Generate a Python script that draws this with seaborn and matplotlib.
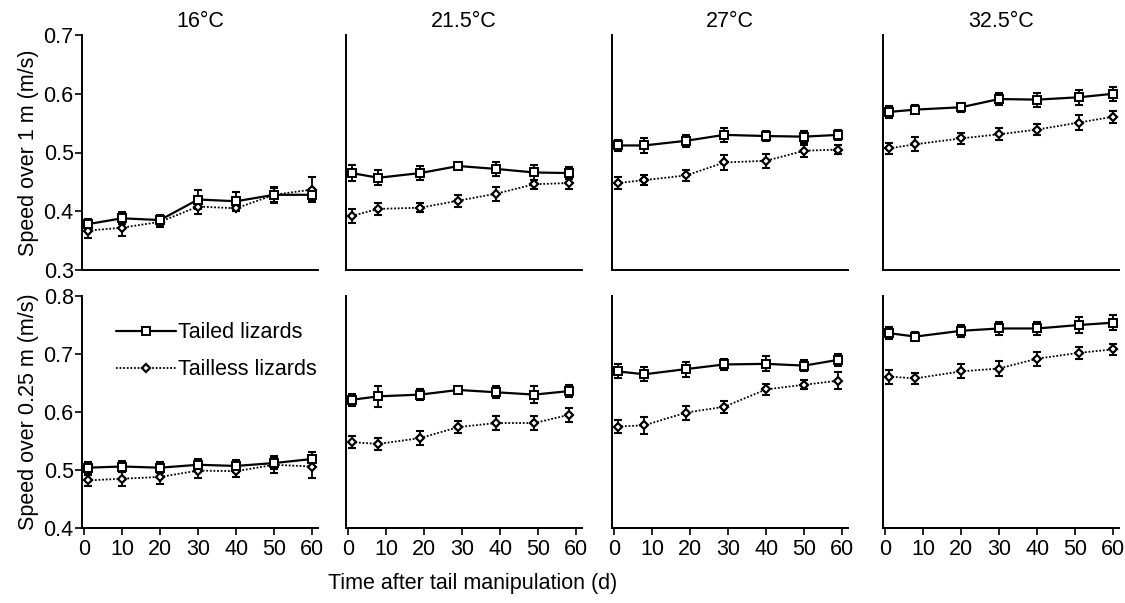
import numpy as np
import pandas as pd
import matplotlib
matplotlib.use("Agg")
import matplotlib.pyplot as plt
import seaborn as sns
from matplotlib.lines import Line2D

# panel titles and sampling days (per temperature column)
temps = ["16°C", "21.5°C", "27°C", "32.5°C"]
days = [[1, 10, 20, 30, 40, 50, 60],
        [1, 8, 19, 29, 39, 49, 58],
        [1, 8, 19, 29, 40, 50, 59],
        [1, 8, 20, 30, 40, 51, 60]]

# speed over 1 m (m/s)
tailed_1m = [[0.378, 0.388, 0.385, 0.420, 0.417, 0.428, 0.428],
             [0.465, 0.457, 0.465, 0.477, 0.472, 0.466, 0.465],
             [0.512, 0.512, 0.520, 0.530, 0.528, 0.527, 0.530],
             [0.569, 0.573, 0.577, 0.591, 0.590, 0.594, 0.600]]
tailed_1m_se = [[0.008, 0.010, 0.008, 0.016, 0.016, 0.012, 0.010],
                [0.013, 0.013, 0.012, 0.007, 0.012, 0.013, 0.010],
                [0.010, 0.013, 0.010, 0.012, 0.008, 0.010, 0.008],
                [0.010, 0.008, 0.008, 0.010, 0.012, 0.013, 0.012]]
tailless_1m = [[0.367, 0.372, 0.382, 0.408, 0.405, 0.428, 0.437],
               [0.392, 0.404, 0.406, 0.418, 0.430, 0.446, 0.448],
               [0.448, 0.453, 0.461, 0.483, 0.486, 0.503, 0.505],
               [0.507, 0.514, 0.524, 0.531, 0.539, 0.551, 0.561]]
tailless_1m_se = [[0.012, 0.014, 0.008, 0.012, 0.004, 0.014, 0.022],
                  [0.012, 0.010, 0.008, 0.010, 0.012, 0.008, 0.010],
                  [0.010, 0.008, 0.010, 0.013, 0.012, 0.010, 0.008],
                  [0.010, 0.012, 0.010, 0.010, 0.010, 0.012, 0.010]]

# speed over 0.25 m (m/s)
tailed_025 = [[0.504, 0.506, 0.504, 0.509, 0.507, 0.512, 0.519],
              [0.621, 0.627, 0.630, 0.638, 0.634, 0.630, 0.636],
              [0.670, 0.665, 0.674, 0.682, 0.683, 0.680, 0.690],
              [0.736, 0.730, 0.740, 0.744, 0.744, 0.750, 0.754]]
tailed_025_se = [[0.010, 0.010, 0.010, 0.010, 0.010, 0.010, 0.012],
                 [0.010, 0.018, 0.010, 0.007, 0.010, 0.015, 0.010],
                 [0.012, 0.012, 0.013, 0.010, 0.013, 0.010, 0.010],
                 [0.010, 0.008, 0.010, 0.012, 0.012, 0.013, 0.013]]
tailless_025 = [[0.482, 0.485, 0.488, 0.499, 0.498, 0.509, 0.506],
                [0.548, 0.545, 0.555, 0.574, 0.581, 0.581, 0.595],
                [0.575, 0.577, 0.599, 0.609, 0.639, 0.647, 0.654],
                [0.661, 0.658, 0.670, 0.675, 0.692, 0.702, 0.708]]
tailless_025_se = [[0.010, 0.012, 0.012, 0.012, 0.010, 0.015, 0.020],
                   [0.010, 0.010, 0.012, 0.010, 0.012, 0.012, 0.012],
                   [0.012, 0.015, 0.012, 0.010, 0.010, 0.008, 0.015],
                   [0.012, 0.010, 0.012, 0.013, 0.012, 0.010, 0.010]]

sns.set_style("ticks")
plt.rcParams['font.family'] = ['Liberation Sans', 'DejaVu Sans']
plt.rcParams['axes.linewidth'] = 1.4
for key in ['text.color', 'axes.labelcolor', 'axes.edgecolor', 'xtick.color', 'ytick.color']:
    plt.rcParams[key] = 'black'

FS = 15.5
W, H = 1125, 603
fig = plt.figure(figsize=(W / 100, H / 100), dpi=100)

lefts = [82, 346, 612, 883]
ax_w = 236
rows = [
    dict(bottom=603 - 270, height=235, ylim=(0.3, 0.7), ticks=[0.3, 0.4, 0.5, 0.6, 0.7],
         tailed=tailed_1m, tailed_se=tailed_1m_se, tailless=tailless_1m, tailless_se=tailless_1m_se,
         ylabel="Speed over 1 m (m/s)"),
    dict(bottom=603 - 528, height=232, ylim=(0.4, 0.8), ticks=[0.4, 0.5, 0.6, 0.7, 0.8],
         tailed=tailed_025, tailed_se=tailed_025_se, tailless=tailless_025, tailless_se=tailless_025_se,
         ylabel="Speed over 0.25 m (m/s)"),
]

sq_kw = dict(color="black", linestyle="-", linewidth=1.6, marker="s", markersize=6,
             markerfacecolor="white", markeredgecolor="black", markeredgewidth=1.4)
dm_kw = dict(color="black", linestyle=(0, (1, 1)), linewidth=1.3, marker="D", markersize=4.5,
             markerfacecolor="white", markeredgecolor="black", markeredgewidth=1.6)

for r, row in enumerate(rows):
    for c in range(4):
        ax = fig.add_axes([lefts[c] / W, row["bottom"] / H, ax_w / W, row["height"] / H])
        df_t = pd.DataFrame({"day": days[c], "speed": row["tailed"][c]})
        df_l = pd.DataFrame({"day": days[c], "speed": row["tailless"][c]})

        ax.errorbar(df_t["day"], df_t["speed"], yerr=row["tailed_se"][c], fmt="none",
                    ecolor="black", elinewidth=1.3, capsize=3.2, capthick=1.5, zorder=2)
        ax.errorbar(df_l["day"], df_l["speed"], yerr=row["tailless_se"][c], fmt="none",
                    ecolor="black", elinewidth=1.3, capsize=3.2, capthick=1.5, zorder=2)

        sns.lineplot(data=df_l, x="day", y="speed", ax=ax, legend=False, zorder=3, **dm_kw)
        sns.lineplot(data=df_t, x="day", y="speed", ax=ax, legend=False, zorder=4, **sq_kw)

        ax.set_xlim(-0.5, 61.5)
        ax.set_ylim(*row["ylim"])
        ax.set_xlabel("")
        ax.set_ylabel("")
        sns.despine(ax=ax)
        ax.set_xticks([0, 10, 20, 30, 40, 50, 60])
        ax.set_yticks(row["ticks"])

        if c == 0:
            ax.set_yticklabels([f"{t:.1f}" for t in row["ticks"]], fontsize=FS)
            ax.tick_params(axis="y", length=5, width=1.2, pad=1)
            ax.set_ylabel(row["ylabel"], fontsize=FS, labelpad=3)
        else:
            ax.tick_params(axis="y", left=False, labelleft=False)

        if r == 1:
            ax.tick_params(axis="x", length=5, width=1.2, labelsize=FS, pad=3)
        else:
            ax.tick_params(axis="x", bottom=False, labelbottom=False)
            ax.set_title(temps[c], fontsize=FS, pad=6)

        if r == 1 and c == 0:
            handles = [Line2D([], [], **sq_kw), Line2D([], [], **dm_kw)]
            ax.legend(handles, ["Tailed lizards", "Tailless lizards"], loc="upper left",
                      bbox_to_anchor=(0.06, 0.97), frameon=False, fontsize=FS,
                      handlelength=2.8, handletextpad=0.1, labelspacing=0.75)

fig.text(473 / W, 1 - 583 / H, "Time after tail manipulation (d)", ha="center", va="center",
         fontsize=FS)

fig.savefig("out.png", dpi=100)
